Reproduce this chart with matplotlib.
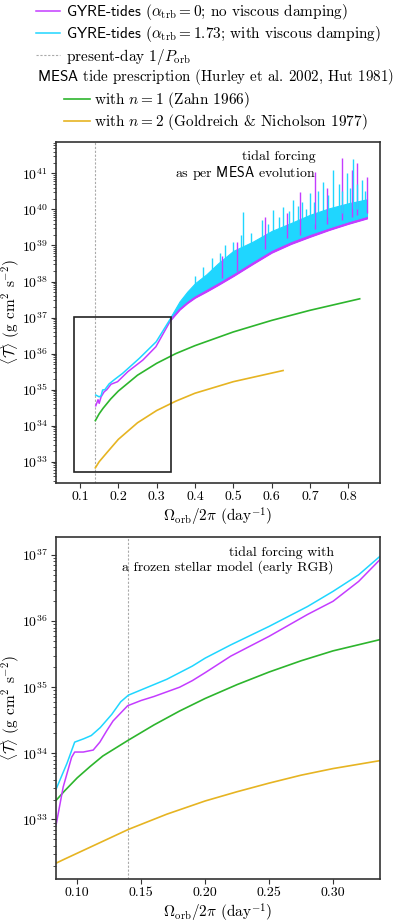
import matplotlib
matplotlib.use("Agg")
import matplotlib.pyplot as plt
from matplotlib.patches import Rectangle
from matplotlib.ticker import LogLocator, FormatStrFormatter
import numpy as np

plt.rcParams['font.family'] = 'cmr10'
plt.rcParams['mathtext.fontset'] = 'cm'
plt.rcParams['axes.formatter.use_mathtext'] = True

MAG = '#c43cff'
CYAN = '#1fd6ff'
GREEN = '#2db52d'
GOLD = '#e6b422'
DASH = '#aaaaaa'
P_PRESENT = 0.14

# ---- top panel (MESA evolution), values are log10 <T> ----
top_mag_x = [0.141, 0.147, 0.150, 0.155, 0.163, 0.170, 0.181, 0.198, 0.225, 0.264, 0.298, 0.338]
top_mag_y = [34.55, 34.72, 34.62, 34.80, 34.94, 35.00, 35.15, 35.22, 35.50, 35.82, 36.19, 36.95]
top_cyan_x = [0.141, 0.150, 0.155, 0.159, 0.165, 0.176, 0.190, 0.211, 0.255, 0.299, 0.338]
top_cyan_y = [34.85, 34.80, 34.83, 34.99, 35.00, 35.16, 35.28, 35.45, 35.87, 36.33, 37.00]

# dense resonance band beyond ~0.34 day^-1
band_x = [0.338, 0.36, 0.38, 0.40, 0.43, 0.46, 0.50, 0.55, 0.60, 0.65, 0.70, 0.75, 0.80, 0.849]
band_mag_lo = [36.95, 37.22, 37.40, 37.55, 37.72, 37.90, 38.15, 38.48, 38.80, 39.04, 39.24, 39.43, 39.60, 39.75]
band_mag_hi = [37.00, 37.35, 37.55, 37.75, 37.98, 38.22, 38.52, 38.80, 39.05, 39.28, 39.50, 39.68, 39.85, 39.98]
band_cyan_lo = [36.98, 37.28, 37.47, 37.62, 37.80, 37.98, 38.23, 38.56, 38.88, 39.12, 39.32, 39.50, 39.67, 39.82]
band_cyan_hi = [37.05, 37.45, 37.72, 37.95, 38.20, 38.50, 38.85, 39.10, 39.40, 39.62, 39.85, 40.03, 40.17, 40.28]

spike_mag_x = [0.47, 0.51, 0.584, 0.64, 0.674, 0.713, 0.745, 0.783, 0.809, 0.822, 0.848]
spike_mag_lo = [38.10, 38.30, 38.90, 39.20, 39.30, 39.45, 39.60, 39.70, 39.80, 39.85, 39.90]
spike_mag_hi = [38.70, 39.10, 39.80, 39.90, 40.49, 41.04, 40.60, 41.42, 41.10, 41.28, 40.90]
spike_cyan_x = [0.40, 0.42, 0.445, 0.466, 0.479, 0.50, 0.52, 0.526, 0.545, 0.574, 0.59,
                0.605, 0.62, 0.630, 0.645, 0.656, 0.67, 0.68, 0.69, 0.700, 0.71, 0.72,
                0.735, 0.748, 0.761, 0.775, 0.785, 0.796, 0.805, 0.812, 0.822, 0.835, 0.845]
spike_cyan_lo = [37.80, 37.95, 38.15, 38.35, 38.45, 38.60, 38.70, 38.70, 38.80, 39.00, 39.10,
                 39.20, 39.25, 39.30, 39.40, 39.40, 39.50, 39.50, 39.55, 39.60, 39.60, 39.70,
                 39.75, 39.80, 39.85, 39.90, 39.90, 39.95, 40.00, 40.00, 40.00, 40.05, 40.10]
spike_cyan_hi = [38.15, 38.40, 38.65, 38.78, 39.01, 39.10, 39.30, 39.93, 39.35, 39.70, 39.60,
                 39.98, 39.80, 40.07, 39.95, 40.26, 40.10, 40.20, 40.00, 40.45, 40.20, 40.50,
                 40.77, 40.40, 41.09, 40.70, 40.50, 41.00, 40.60, 41.40, 40.70, 40.81, 40.50]

top_green_x = [0.14, 0.15, 0.16, 0.18, 0.20, 0.25, 0.30, 0.35, 0.40, 0.50, 0.60, 0.70, 0.83]
top_green_y = [34.14, 34.33, 34.48, 34.74, 34.96, 35.40, 35.73, 36.00, 36.22, 36.60, 36.92, 37.20, 37.52]
top_gold_x = [0.14, 0.15, 0.17, 0.20, 0.25, 0.30, 0.35, 0.40, 0.50, 0.63]
top_gold_y = [32.83, 33.00, 33.25, 33.62, 34.08, 34.42, 34.68, 34.90, 35.22, 35.53]

# ---- bottom panel (frozen early-RGB model) ----
bot_x = [0.0835, 0.092, 0.098, 0.105, 0.111, 0.118, 0.127, 0.134, 0.140, 0.150, 0.160,
         0.170, 0.180, 0.190, 0.200, 0.220, 0.250, 0.280, 0.300, 0.320, 0.3367]
bot_cyan_y = [33.46, 33.85, 34.17, 34.22, 34.27, 34.39, 34.59, 34.78, 34.88, 34.96, 35.04,
              35.12, 35.22, 35.32, 35.44, 35.64, 35.92, 36.22, 36.45, 36.70, 36.98]
bot_mag_x = [0.0835, 0.089, 0.0956, 0.098, 0.1047, 0.1125, 0.1177, 0.123, 0.128, 0.1394,
             0.150, 0.160, 0.170, 0.180, 0.190, 0.200, 0.220, 0.250, 0.280, 0.300, 0.320, 0.3367]
bot_mag_y = [32.92, 33.49, 33.94, 34.02, 34.02, 34.05, 34.17, 34.34, 34.49, 34.72,
             34.80, 34.86, 34.93, 35.00, 35.10, 35.22, 35.47, 35.77, 36.10, 36.30, 36.60, 36.93]
bot_green_x = [0.0835, 0.09, 0.10, 0.11, 0.12, 0.14, 0.16, 0.18, 0.20, 0.225, 0.25, 0.275, 0.30, 0.3367]
bot_green_y = [33.29, 33.43, 33.63, 33.80, 33.96, 34.20, 34.43, 34.64, 34.83, 35.04, 35.23, 35.40, 35.55, 35.72]
bot_gold_x = [0.0835, 0.09, 0.10, 0.11, 0.12, 0.14, 0.17, 0.20, 0.225, 0.25, 0.275, 0.30, 0.3367]
bot_gold_y = [32.34, 32.40, 32.49, 32.58, 32.67, 32.85, 33.08, 33.28, 33.42, 33.55, 33.67, 33.77, 33.89]

zoom_box = (0.0834, 0.3367, 32.72, 37.01)


def p(v):
    return 10.0 ** np.asarray(v)


def style_axes(ax):
    for s in ax.spines.values():
        s.set_color('#333333')
        s.set_linewidth(1.2)
    ax.set_yscale('log')
    ax.tick_params(which='major', direction='out', length=3.5, width=0.8,
                   color='#333333', labelsize=10, pad=2.5)
    ax.tick_params(which='minor', direction='out', length=2, width=0.6, color='#333333')
    ax.yaxis.set_minor_locator(LogLocator(base=10, subs=np.arange(2, 10), numticks=100))
    ax.set_xlabel(r"$\Omega_{\rm orb}/2\pi$ (day$^{-1}$)", fontsize=11, labelpad=2)
    ax.set_ylabel(r"$\langle \mathcal{T} \rangle$ (g cm$^2$ s$^{-2}$)", fontsize=11)
    ax.yaxis.set_label_coords(-0.105, 0.5)


fig = plt.figure(figsize=(4, 9.24), dpi=100)
ax1 = fig.add_axes([0.14, 0.4773, 0.81, 0.369])
ax2 = fig.add_axes([0.14, 0.0487, 0.81, 0.370])

# top panel
vl = ax1.axvline(P_PRESENT, color=DASH, lw=0.8, ls=(0, (2, 1.5)))
ax1.plot(top_green_x, p(top_green_y), color=GREEN, lw=1.2)
ax1.plot(top_gold_x, p(top_gold_y), color=GOLD, lw=1.2)
l_mag, = ax1.plot(top_mag_x, p(top_mag_y), color=MAG, lw=1.1)
ax1.fill_between(band_x, p(band_mag_lo), p(band_mag_hi), color=MAG, lw=0.8)
ax1.plot(band_x, p(band_mag_lo), color=MAG, lw=1.1)
ax1.vlines(spike_mag_x, p(spike_mag_lo), p(spike_mag_hi), color=MAG, lw=1.0)
l_cyan, = ax1.plot(top_cyan_x, p(top_cyan_y), color=CYAN, lw=1.1)
ax1.fill_between(band_x, p(band_cyan_lo), p(band_cyan_hi), color=CYAN, lw=0.8)
ax1.vlines(spike_cyan_x, p(spike_cyan_lo), p(spike_cyan_hi), color=CYAN, lw=1.0)
x0, x1, y0, y1 = zoom_box
ax1.add_patch(Rectangle((x0, 10 ** y0), x1 - x0, 10 ** y1 - 10 ** y0,
                        fill=False, ec='#222222', lw=1.2, zorder=5))
ax1.set_xlim(0.0373, 0.883)
ax1.set_ylim(10 ** 32.41, 10 ** 41.87)
ax1.set_xticks(np.arange(0.1, 0.85, 0.1))
ax1.xaxis.set_major_formatter(FormatStrFormatter('%.1f'))
ax1.set_yticks([10.0 ** k for k in range(33, 42)])
style_axes(ax1)
ax1.text(0.80, 0.975, "tidal forcing\nas per $\\mathsf{MESA}$ evolution", transform=ax1.transAxes,
         ha='right', va='top', fontsize=10, linespacing=1.05)

# bottom panel
ax2.axvline(P_PRESENT, color=DASH, lw=0.8, ls=(0, (2, 1.5)))
l_green, = ax2.plot(bot_green_x, p(bot_green_y), color=GREEN, lw=1.2)
l_gold, = ax2.plot(bot_gold_x, p(bot_gold_y), color=GOLD, lw=1.2)
ax2.plot(bot_mag_x, p(bot_mag_y), color=MAG, lw=1.1)
ax2.plot(bot_x, p(bot_cyan_y), color=CYAN, lw=1.1)
ax2.set_xlim(0.0834, 0.3367)
ax2.set_ylim(10 ** 32.1, 10 ** 37.27)
ax2.set_xticks(np.arange(0.10, 0.31, 0.05))
ax2.xaxis.set_major_formatter(FormatStrFormatter('%.2f'))
ax2.set_yticks([10.0 ** k for k in range(33, 38)])
style_axes(ax2)
ax2.text(0.858, 0.972, "tidal forcing with\na frozen stellar model (early RGB)", transform=ax2.transAxes,
         ha='right', va='top', fontsize=10, linespacing=1.05)

# legend at the top of the figure
fig.legend([l_mag, l_cyan, vl],
           [r"$\mathsf{GYRE}$-$\mathsf{tides}$ ($\alpha_{\rm trb} = 0$; no viscous damping)",
            r"$\mathsf{GYRE}$-$\mathsf{tides}$ ($\alpha_{\rm trb} = 1.73$; with viscous damping)",
            r"present-day $1/P_{\rm orb}$"],
           loc='upper left', bbox_to_anchor=(36 / 400, 1 - 2 / 924), frameon=False, fontsize=11,
           handlelength=1.6, handletextpad=0.35, borderpad=0, borderaxespad=0, labelspacing=0.15)
fig.text(37 / 400, 1 - 77 / 924, r"$\mathsf{MESA}$ tide prescription (Hurley et al. 2002, Hut 1981)",
         va='center', ha='left', fontsize=10.8)
fig.legend([l_green, l_gold],
           [r"with $n = 1$ (Zahn 1966)", r"with $n = 2$ (Goldreich & Nicholson 1977)"],
           loc='upper left', bbox_to_anchor=(64 / 400, 1 - 90 / 924), frameon=False, fontsize=11,
           handlelength=1.7, handletextpad=0.25, borderpad=0, borderaxespad=0, labelspacing=0.15)

fig.savefig("out.png", dpi=100)
